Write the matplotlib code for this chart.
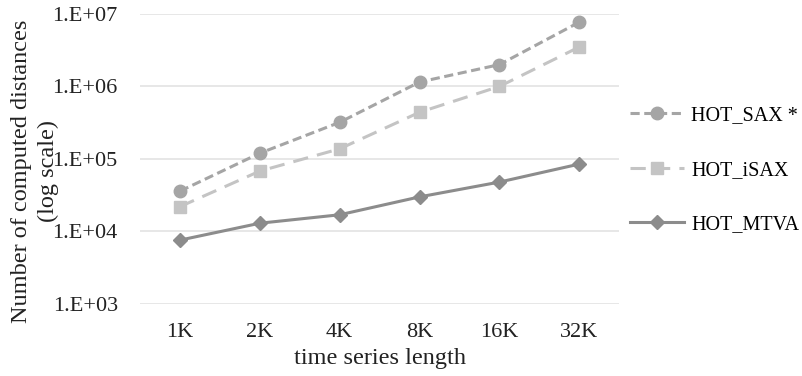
import matplotlib.pyplot as plt
from matplotlib.ticker import FixedLocator

categories = ["1K", "2K", "4K", "8K", "16K", "32K"]
hot_sax = [3.6e4, 1.2e5, 3.2e5, 1.15e6, 2.0e6, 7.7e6]
hot_isax = [2.2e4, 6.8e4, 1.38e5, 4.4e5, 1.0e6, 3.5e6]
hot_mtva = [7.6e3, 1.3e4, 1.7e4, 3.0e4, 4.8e4, 8.5e4]
ytick_vals = [1e3, 1e4, 1e5, 1e6, 1e7]
ytick_labels = ["1.E+03", "1.E+04", "1.E+05", "1.E+06", "1.E+07"]

plt.rcParams["font.family"] = ["Liberation Serif", "DejaVu Serif"]

fig = plt.figure(figsize=(8.02, 3.76), dpi=100)
ax = fig.add_axes([0.1746, 0.1915, 0.5975, 0.7715])

x = list(range(len(categories)))
ax.plot(x, hot_sax, color="#A5A5A5", lw=2.2, ls=(0, (3, 1.5)), marker="o", ms=9,
        label="HOT_SAX *")
ax.plot(x, hot_isax, color="#C4C4C4", lw=2.2, ls=(0, (5, 3)), marker="s", ms=8,
        label="HOT_iSAX")
ax.plot(x, hot_mtva, color="#8C8C8C", lw=2.2, ls="-", marker="D", ms=7,
        label="HOT_MTVA")

ax.set_yscale("log")
ax.set_ylim(1e3, 1e7)
ax.set_xlim(-0.5, len(categories) - 0.5)
ax.yaxis.set_major_locator(FixedLocator(ytick_vals))
ax.yaxis.set_minor_locator(FixedLocator([]))
ax.set_yticks(ytick_vals, ytick_labels)
ax.set_xticks(x, categories)
ax.tick_params(length=0, labelsize=16, colors="#222222")
ax.tick_params(axis="y", pad=16)
ax.tick_params(axis="x", pad=14)
ax.grid(axis="y", color="#E3E3E3", lw=1.2)
ax.set_axisbelow(True)
for s in ax.spines.values():
    s.set_visible(False)

ax.set_xlabel("time series length", fontsize=17.5, color="#222222", labelpad=4)
fig.text(35 / 802, 0.545, "Number of computed distances\n(log scale)", fontsize=17.5,
         color="#222222", rotation=90, ha="center", va="center", linespacing=1.3)

fig.legend(loc="center left", bbox_to_anchor=(630 / 802, 0.547), frameon=False,
           fontsize=14.5, handlelength=2.7, labelspacing=1.75, handletextpad=0.35,
           borderpad=0, borderaxespad=0)

fig.savefig("out.png", dpi=100)
